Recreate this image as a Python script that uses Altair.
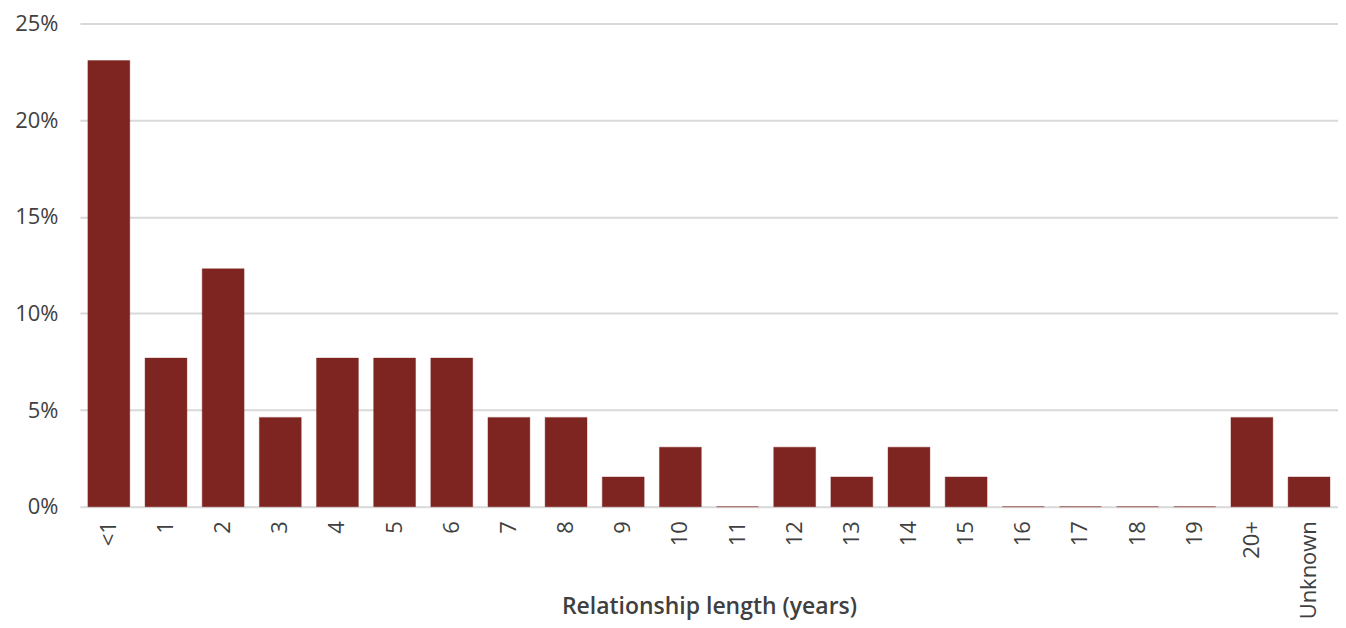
import altair as alt
import pandas as pd

categories = ["<1", "1", "2", "3", "4", "5", "6", "7", "8", "9", "10", "11",
              "12", "13", "14", "15", "16", "17", "18", "19", "20+", "Unknown"]
shares = [0.2308, 0.0769, 0.1231, 0.0462, 0.0769, 0.0769, 0.0769, 0.0462,
          0.0462, 0.0154, 0.0308, 0.0, 0.0308, 0.0154, 0.0308, 0.0154,
          0.0, 0.0, 0.0, 0.0, 0.0462, 0.0154]

df = pd.DataFrame({"cat": categories, "share": shares})

font = "Open Sans"
chart = alt.Chart(df).mark_bar(color="#7f2521", stroke="#7f2521", strokeWidth=0.4).encode(
    x=alt.X("cat:N", sort=categories,
            scale=alt.Scale(paddingInner=0.267, paddingOuter=0.14),
            axis=alt.Axis(title="Relationship length (years)", labelAngle=-90,
                          labelFontSize=22, labelColor="#404040", labelFont=font,
                          labelPadding=14, ticks=False, domain=False,
                          titleFont=font, titleFontSize=23, titleFontWeight=600,
                          titleColor="#404040", titleY=100, titleBaseline="middle")),
    y=alt.Y("share:Q", scale=alt.Scale(domain=[0, 0.25]),
            axis=alt.Axis(title=None, format=".0%", values=[0, 0.05, 0.1, 0.15, 0.2, 0.25],
                          labelFontSize=22, labelColor="#404040", labelFont=font,
                          labelPadding=22, ticks=False, domain=False,
                          gridColor="#d9d9d9", gridWidth=2)),
).properties(
    width=1260, height=484,
    autosize=alt.AutoSizeParams(type="none"),
    padding={"left": 72, "top": 15, "right": 0, "bottom": 119},
).configure_view(stroke=None)

chart.save("out.html", embed_options={"renderer": "svg", "actions": False})
